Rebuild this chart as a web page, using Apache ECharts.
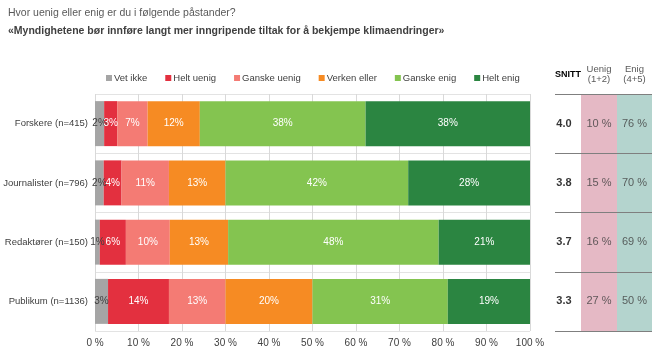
<!DOCTYPE html>
<html>
<head>
<meta charset="utf-8">
<script src="https://cdn.jsdelivr.net/npm/echarts@6/dist/echarts.min.js"></script>
<style>
  html, body { margin: 0; background: #fff; }
  #chart { width: 665px; height: 351px; }
</style>
</head>
<body>
<div id="chart"></div>
<script>
const groups = ['Forskere (n=415)', 'Journalister (n=796)', 'Redaktører (n=150)', 'Publikum (n=1136)']
const answers = ['Vet ikke', 'Helt uenig', 'Ganske uenig', 'Verken eller', 'Ganske enig', 'Helt enig']
const vetIkke = [2.1, 2, 1.1, 3]
const heltUenig = [3, 4.1, 6, 14]
const ganskeUenig = [7, 10.9, 10.1, 13]
const verkenEller = [12, 13, 13.4, 20]
const ganskeEnig = [38.1, 42, 48.4, 31.1]
const heltEnig = [37.8, 28, 21, 18.9]
const snitt = ['4.0', '3.8', '3.7', '3.3']
const uenig = [10, 15, 16, 27]
const enig = [76, 70, 69, 50]
const tableHeads = ['SNITT', 'Uenig\n(1+2)', 'Enig\n(4+5)']

const font = '"Liberation Sans", Arial, sans-serif'
const colors = ['#a5a5a5', '#e3303f', '#f47b74', '#f68b23', '#84c450', '#2b8541']
const values = [vetIkke, heltUenig, ganskeUenig, verkenEller, ganskeEnig, heltEnig]

const chart = echarts.init(document.getElementById('chart'))

const barSeries = answers.map((name, k) => ({
  name,
  type: 'bar',
  stack: 'total',
  xAxisIndex: 0,
  yAxisIndex: 0,
  barWidth: 45,
  data: values[k],
  itemStyle: { color: colors[k] },
  label: {
    show: true,
    position: 'inside',
    fontFamily: font,
    fontSize: 10,
    color: k === 0 ? '#404040' : '#fff',
    formatter: p => Math.round(p.value) + '%'
  }
}))

// table columns: snitt, uenig, enig
const tableCols = [
  { data: snitt, fmt: v => v, bold: true, bg: null, left: 555, right: 84 },
  { data: uenig, fmt: v => v + ' %', bold: false, bg: '#e5b9c5', left: 581, right: 48 },
  { data: enig, fmt: v => v + ' %', bold: false, bg: '#b4d4ce', left: 617, right: 13 }
]

const grids = [{ left: 95, right: 135, top: 94, bottom: 20, outerBoundsMode: 'none' }]
const xAxes = [{
  gridIndex: 0,
  type: 'value',
  min: 0,
  max: 100,
  interval: 10,
  axisLine: { show: false },
  axisTick: { show: false },
  splitLine: { lineStyle: { color: '#d9d9d9' } },
  axisLabel: { formatter: '{value} %', fontFamily: font, fontSize: 10, color: '#404040', margin: 7 }
}]
const yAxes = [{
  gridIndex: 0,
  type: 'category',
  data: groups,
  inverse: true,
  axisLine: { show: false },
  axisTick: { show: false },
  splitLine: { show: true, lineStyle: { color: '#e3e3e3' } },
  axisLabel: { fontFamily: font, fontSize: 9.5, color: '#404040', margin: 7 }
}]
const tableSeries = []

tableCols.forEach((col, i) => {
  const g = i + 1
  grids.push({
    left: col.left, right: col.right, top: 94, bottom: 20, outerBoundsMode: 'none',
    show: !!col.bg, backgroundColor: col.bg || 'transparent', borderWidth: 0
  })
  xAxes.push({
    gridIndex: g,
    type: 'category',
    position: 'top',
    data: [tableHeads[i]],
    axisLine: { show: false },
    axisTick: { show: false },
    axisLabel: {
      fontFamily: font,
      fontSize: col.bold ? 9 : 9.5,
      lineHeight: 10,
      fontWeight: col.bold ? 'bold' : 'normal',
      color: col.bold ? '#000' : '#595959',
      margin: col.bold ? 14 : 10
    }
  })
  yAxes.push({
    gridIndex: g,
    type: 'category',
    data: groups,
    inverse: true,
    axisLine: { show: false },
    axisTick: { show: false },
    axisLabel: { show: false },
    splitLine: { show: true, lineStyle: { color: '#7f7f7f', width: 1 } }
  })
  tableSeries.push({
    type: 'scatter',
    xAxisIndex: g,
    yAxisIndex: g,
    symbolSize: 1,
    itemStyle: { color: 'transparent' },
    silent: true,
    data: col.data.map((v, j) => [tableHeads[i], groups[j], v]),
    label: {
      show: true,
      position: 'inside',
      offset: i === 0 ? [-4, 0] : [0, 0],
      fontFamily: font,
      fontSize: 11,
      fontWeight: col.bold ? 'bold' : 'normal',
      color: col.bold ? '#000' : '#404040',
      formatter: p => col.fmt(p.value[2])
    }
  })
})

chart.setOption({
  animation: false,
  title: [
    {
      text: 'Hvor uenig eller enig er du i følgende påstander?',
      left: 8, top: 8, padding: 0,
      textStyle: { fontFamily: font, fontSize: 10.5, fontWeight: 'normal', color: '#595959' }
    },
    {
      text: '«Myndighetene bør innføre langt mer inngripende tiltak for å bekjempe klimaendringer»',
      left: 8, top: 26, padding: 0,
      textStyle: { fontFamily: font, fontSize: 10.5, fontWeight: 'bold', color: '#404040' }
    }
  ],
  legend: {
    data: answers,
    left: 106,
    top: 73,
    icon: 'rect',
    itemWidth: 6,
    itemHeight: 6,
    itemGap: 18,
    padding: 0,
    textStyle: { fontFamily: font, fontSize: 9.5, color: '#404040', padding: [0, 0, 0, -3] }
  },
  grid: grids,
  xAxis: xAxes,
  yAxis: yAxes,
  series: barSeries.concat(tableSeries)
})
</script>
</body>
</html>
